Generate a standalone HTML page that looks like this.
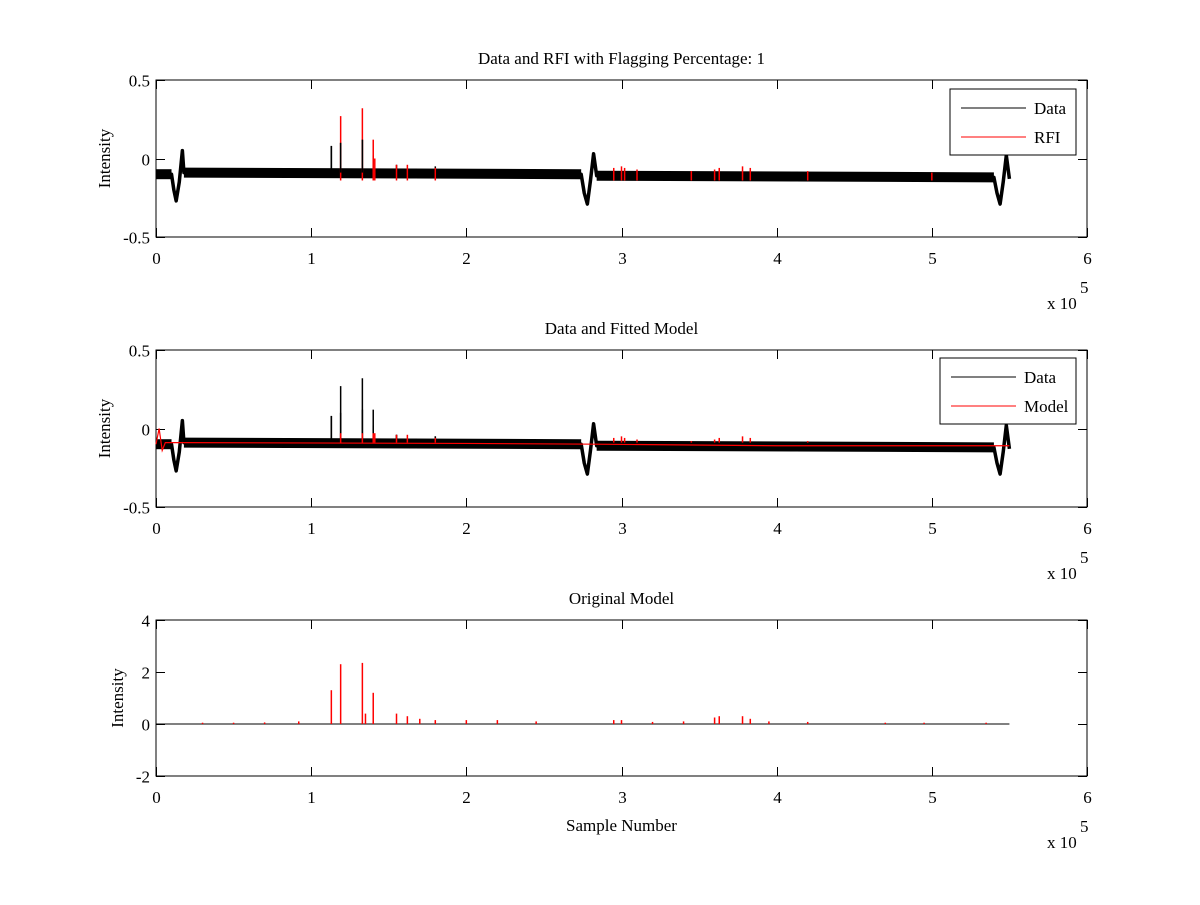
<!DOCTYPE html>
<html><head><meta charset="utf-8"><style>
body{margin:0;background:#fff}
svg text{font-family:"Liberation Serif",serif;font-size:17px;fill:#000}
</style></head><body>
<svg id="fig" width="1200" height="900" xmlns="http://www.w3.org/2000/svg"></svg>
<script>
// Data (x in units of 1e5 samples)
const xTicks=[0,1,2,3,4,5,6];
const baseX=[0,0.10,0.115,0.13,0.15,0.17,0.18,1.0,2.0,2.74,2.76,2.78,2.80,2.82,2.84,3.5,4.5,5.40,5.42,5.44,5.46,5.48,5.50];
const baseY=[-0.10,-0.10,-0.20,-0.27,-0.15,0.05,-0.09,-0.09,-0.10,-0.10,-0.22,-0.29,-0.14,0.03,-0.11,-0.11,-0.12,-0.12,-0.22,-0.29,-0.15,0.02,-0.13];
// flat (noisy) band segments: start/end x and level
const flatStart=[0,0.18,2.84];
const flatEnd=[0.10,2.74,5.40];
const flatStartY=[-0.10,-0.09,-0.11];
const flatEndY=[-0.10,-0.10,-0.12];
const dataSpikeX=[1.13,1.19,1.33,1.40,1.55,1.80];
const dataSpikeTop=[0.08,0.10,0.12,0.02,-0.04,-0.05];
const rfiX=[1.19,1.33,1.40,1.41,1.55,1.62,1.80,2.95,3.00,3.02,3.10,3.45,3.60,3.63,3.78,3.83,4.2,5.0];
const rfiTop=[0.27,0.32,0.12,0.0,-0.04,-0.04,-0.06,-0.06,-0.05,-0.06,-0.07,-0.08,-0.07,-0.06,-0.05,-0.06,-0.08,-0.09];
const modelX=[0,0.02,0.04,0.06,0.18,2.0,2.84,4.0,5.5];
const modelY=[-0.10,0.0,-0.14,-0.09,-0.09,-0.095,-0.10,-0.11,-0.11];
const origX=[0.3,0.5,0.7,0.92,1.13,1.19,1.33,1.35,1.40,1.55,1.62,1.70,1.80,2.0,2.2,2.45,2.95,3.0,3.2,3.4,3.6,3.63,3.78,3.83,3.95,4.2,4.7,4.95,5.35];
const origY=[0.05,0.05,0.06,0.1,1.3,2.3,2.35,0.4,1.2,0.4,0.3,0.2,0.15,0.15,0.15,0.1,0.15,0.15,0.08,0.1,0.25,0.3,0.3,0.2,0.1,0.08,0.05,0.05,0.05];

const NS='http://www.w3.org/2000/svg';
const svg=document.getElementById('fig');
function el(t,a,p){const e=document.createElementNS(NS,t);for(const k in a)e.setAttribute(k,a[k]);(p||svg).appendChild(e);return e;}
const X0=156,X1=1087;
function sx(v){return X0+(v-0)/(6-0)*(X1-X0);}
const panels=[
 {top:80,bot:237,ymin:-0.5,ymax:0.5,yt:[0.5,0,-0.5],yl:['0.5','0','-0.5'],title:'Data and RFI with Flagging Percentage: 1',name:'rfi-panel',ylx:110},
 {top:350,bot:507,ymin:-0.5,ymax:0.5,yt:[0.5,0,-0.5],yl:['0.5','0','-0.5'],title:'Data and Fitted Model',name:'model-panel',ylx:110},
 {top:620,bot:776,ymin:-2,ymax:4,yt:[4,2,0,-2],yl:['4','2','0','-2'],title:'Original Model',name:'original-panel',ylx:123}
];
panels.forEach((P,i)=>{
 const g=el('g',{});
 
 
 const sy=v=>P.bot-(v-P.ymin)/(P.ymax-P.ymin)*(P.bot-P.top);
 el('rect',{x:X0,y:P.top,width:X1-X0,height:P.bot-P.top,fill:'#fff',stroke:'#000','stroke-width':1},g);
 const t=el('text',{x:(X0+X1)/2,y:P.top-16,'text-anchor':'middle'},g);t.textContent=P.title;
 
 xTicks.forEach(v=>{const x=Math.round(sx(v))+0.5;
  el('line',{x1:x,x2:x,y1:P.bot,y2:P.bot-9,stroke:'#000'},g);
  el('line',{x1:x,x2:x,y1:P.top,y2:P.top+9,stroke:'#000'},g);
  const l=el('text',{x:x,y:P.bot+27,'text-anchor':'middle'},g);l.textContent=v;
  });
 P.yt.forEach((v,k)=>{const y=Math.round(sy(v))+0.5;
  el('line',{x1:X0,x2:X0+9,y1:y,y2:y,stroke:'#000'},g);
  el('line',{x1:X1,x2:X1-9,y1:y,y2:y,stroke:'#000'},g);
  const l=el('text',{x:X0-6,y:y+6,'text-anchor':'end'},g);l.textContent=P.yl[k];
  });
 const yl=el('text',{x:P.ylx,y:(P.top+P.bot)/2,'text-anchor':'middle',transform:`rotate(-90 ${P.ylx} ${(P.top+P.bot)/2})`},g);
 yl.textContent='Intensity';
 const e1=el('text',{x:1047,y:P.bot+72},g);e1.textContent='x 10';
 
 const e2=el('text',{x:1080,y:P.bot+56,'font-size':'13'},g);e2.textContent='5';
 if(i<2){
  const pts=baseX.map((x,k)=>sx(x)+','+sy(baseY[k])).join(' ');
  const ln=el('polyline',{points:pts,fill:'none',stroke:'#000','stroke-width':3.5,'stroke-linejoin':'round'},g);
  
  flatStart.forEach((x,k)=>{
   const b=el('line',{x1:sx(x),x2:sx(flatEnd[k]),y1:sy(flatStartY[k]),y2:sy(flatEndY[k]),stroke:'#000','stroke-width':10},g);
   });
  dataSpikeX.forEach((x,k)=>{const s=el('line',{x1:sx(x),x2:sx(x),y1:sy(-0.09),y2:sy(dataSpikeTop[k]),stroke:'#000','stroke-width':1.5},g);
   });
 }
 if(i===0){
  rfiX.forEach((x,k)=>{const s=el('line',{x1:sx(x),x2:sx(x),y1:sy(-0.14),y2:sy(rfiTop[k]),stroke:'#f00','stroke-width':1.5},g);
   });
  dataSpikeX.slice(0,3).forEach((x,k)=>el('line',{x1:sx(x),x2:sx(x),y1:sy(-0.09),y2:sy(dataSpikeTop[k]),stroke:'#000','stroke-width':1.5},g));
 }
 if(i===1){
  dataSpikeX.forEach((x,k)=>{const v=[0.08,0.27,0.32,0.12,-0.04,-0.05][k];
   el('line',{x1:sx(x),x2:sx(x),y1:sy(-0.09),y2:sy(v),stroke:'#000','stroke-width':1.5},g);});
  const pts=modelX.map((x,k)=>sx(x)+','+sy(modelY[k])).join(' ');
  const m=el('polyline',{points:pts,fill:'none',stroke:'#f00','stroke-width':1.2},g);
  
  rfiX.forEach((x,k)=>{const s=el('line',{x1:sx(x),x2:sx(x),y1:sy(-0.09),y2:sy(Math.min(rfiTop[k],-0.03)),stroke:'#f00','stroke-width':1.5},g);
   });
 }
 if(i===2){
  const b=el('line',{x1:sx(0),x2:sx(5.5),y1:sy(0),y2:sy(0),stroke:'#000'},g);
  
  origX.forEach((x,k)=>{const s=el('line',{x1:sx(x),x2:sx(x),y1:sy(0),y2:sy(origY[k]),stroke:'#f00','stroke-width':1.5},g);
   });
  const xt=el('text',{x:(X0+X1)/2,y:831,'text-anchor':'middle'},g);xt.textContent='Sample Number';
  
 }
});
function legend(x,y,w,labels,cols,name){
 const g=el('g',{});
 
 el('rect',{x:x,y:y,width:w,height:66,fill:'#fff',stroke:'#000'},g);
 labels.forEach((l,k)=>{const yy=y+19+k*29;
  el('line',{x1:x+11,x2:x+76,y1:yy,y2:yy,stroke:cols[k]},g);
  const t=el('text',{x:x+84,y:yy+6},g);t.textContent=l;
  });
}
legend(950,89,126,['Data','RFI'],['#000','#f00'],'legend-rfi');
legend(940,358,136,['Data','Model'],['#000','#f00'],'legend-model');
</script>
</body></html>
